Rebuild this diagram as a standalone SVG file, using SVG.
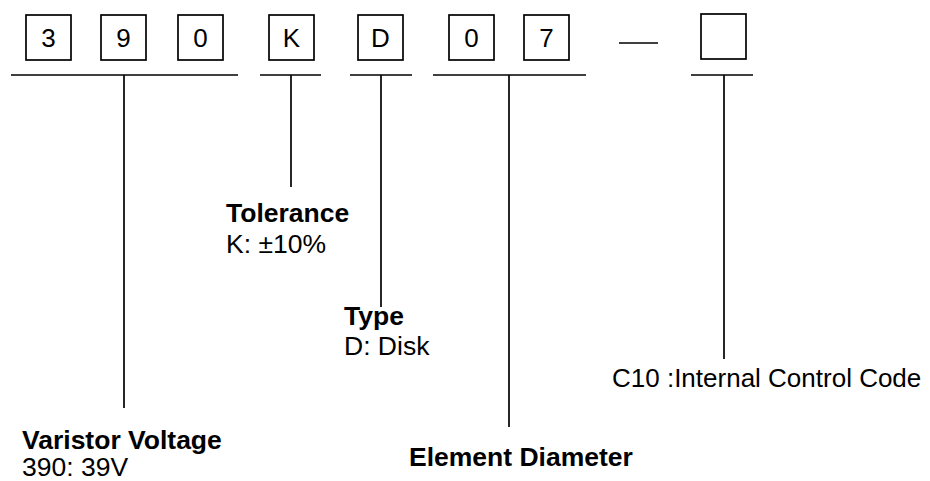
<svg xmlns="http://www.w3.org/2000/svg" width="930" height="481" viewBox="0 0 930 481">
<style>
.box{fill:#fff;stroke:#000;stroke-width:1.7}
.ln{stroke:#000;stroke-width:1.7;fill:none}
.d{font-family:"Liberation Sans",Arial,sans-serif;font-size:26px;text-anchor:middle;fill:#000}
.b{font-family:"Liberation Sans",Arial,sans-serif;font-size:26.5px;font-weight:bold;fill:#000}
.r{font-family:"Liberation Sans",Arial,sans-serif;font-size:26.5px;fill:#000}
.c{font-family:"Liberation Sans",Arial,sans-serif;font-size:26px;fill:#000}
</style>
<g id="box-3"><rect class="box" x="26" y="15" width="45" height="45"/><text class="d" x="48.5" y="47">3</text></g>
<g id="box-9"><rect class="box" x="101" y="15" width="45" height="45"/><text class="d" x="123.5" y="47">9</text></g>
<g id="box-0a"><rect class="box" x="178" y="15" width="45" height="45"/><text class="d" x="200.5" y="47">0</text></g>
<g id="box-K"><rect class="box" x="269" y="15" width="45" height="45"/><text class="d" x="291.5" y="47">K</text></g>
<g id="box-D"><rect class="box" x="358" y="15" width="45" height="45"/><text class="d" x="380.5" y="47">D</text></g>
<g id="box-0b"><rect class="box" x="449" y="15" width="45" height="45"/><text class="d" x="471.5" y="47">0</text></g>
<g id="box-7"><rect class="box" x="524" y="15" width="45" height="45"/><text class="d" x="546.5" y="47">7</text></g>
<g id="dash"><line class="ln" x1="619" y1="43" x2="658" y2="43"/></g>
<g id="box-empty"><rect class="box" x="701" y="14" width="45" height="45"/></g>
<g id="connectors">
<line class="ln" x1="11" y1="75" x2="238" y2="75"/>
<line class="ln" x1="124" y1="75" x2="124" y2="408"/>
<line class="ln" x1="260" y1="75" x2="321" y2="75"/>
<line class="ln" x1="291" y1="75" x2="291" y2="187"/>
<line class="ln" x1="350" y1="75" x2="412" y2="75"/>
<line class="ln" x1="381" y1="75" x2="381" y2="307"/>
<line class="ln" x1="433" y1="75" x2="586" y2="75"/>
<line class="ln" x1="509" y1="75" x2="509" y2="427"/>
<line class="ln" x1="691" y1="75" x2="753" y2="75"/>
<line class="ln" x1="724" y1="75" x2="724" y2="359"/>
</g>
<g id="label-voltage"><text class="b" x="22" y="449">Varistor Voltage</text><text class="r" x="22" y="476">390: 39V</text></g>
<g id="label-tolerance"><text class="b" x="226" y="222">Tolerance</text><text class="r" x="226" y="253">K: ±10%</text></g>
<g id="label-type"><text class="b" x="344" y="325">Type</text><text class="r" x="344" y="355">D: Disk</text></g>
<g id="label-diameter"><text class="b" x="409" y="466">Element Diameter</text></g>
<g id="label-code"><text class="c" x="612" y="387">C10 :Internal Control Code</text></g>
</svg>
